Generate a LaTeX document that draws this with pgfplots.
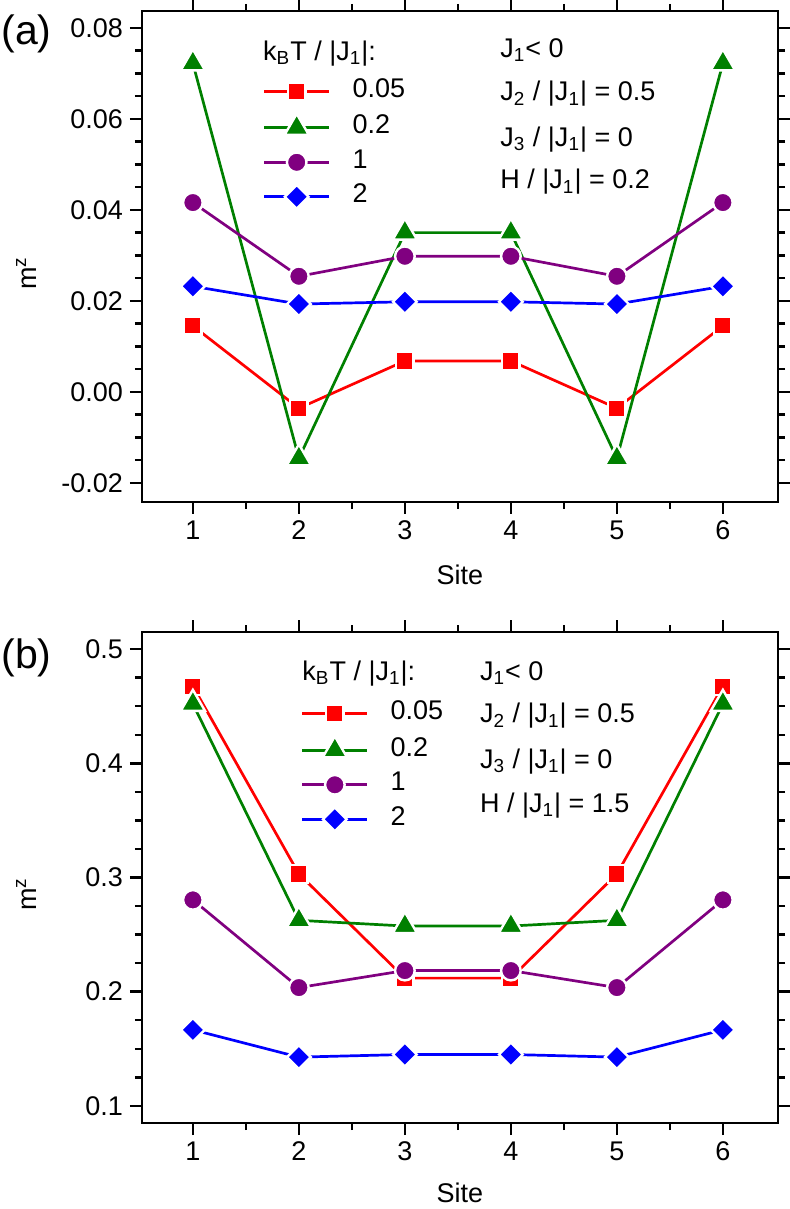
\documentclass[border=0pt]{standalone}
\usepackage{fontspec}
\setmainfont{Liberation Sans}
\usepackage{pgfplots}
\pgfplotsset{compat=1.18}

\definecolor{ored}{RGB}{255,0,0}
\definecolor{ogreen}{RGB}{0,128,0}
\definecolor{opurple}{RGB}{128,0,128}
\definecolor{oblue}{RGB}{0,0,255}

\tikzset{annot/.style={anchor=base west, font=\fontsize{13.5}{15}\selectfont, inner sep=0pt}}

\pgfplotsset{
 panel/.style={
  scale only axis, width=318pt, height=245.5pt,
  xmin=0.52, xmax=6.52,
  xtick={1,...,6}, minor x tick num=1,
  scaled y ticks=false,
  clip mode=individual,
  tick align=outside,
  major tick length=6pt, minor tick length=3.5pt,
  axis line style={line width=1.4pt},
  every tick/.style={black, line width=1.2pt},
  ticklabel style={font=\fontsize{13.5}{15}\selectfont},
  /pgf/number format/assume math mode=true,
  xlabel={Site},
  xlabel style={font=\fontsize{13.5}{15}\selectfont, at={(axis description cs:0.5,-0.149)}, anchor=center},
  ylabel={m\textsuperscript{z}},
  ylabel style={font=\fontsize{13.5}{15}\selectfont, at={(axis description cs:-0.182,0.466)}, anchor=center},
  legend style={draw=none, fill=none, inner sep=0pt, outer sep=0pt, row sep=5.25pt, column sep=11pt,
    font=\fontsize{13.5}{15}\selectfont, nodes={inner sep=0pt, text height=9pt, text depth=3pt}},
  legend cell align=left,
  legend image code/.code={\draw[mark repeat=2,mark phase=2,##1] plot coordinates {(0pt,0pt) (16.25pt,0pt) (32.5pt,0pt)};},
 },
 s1/.style={color=ored, line width=1.35pt, mark=square*, mark size=4.4pt, mark options={draw=white, line width=1.2pt, fill=ored}},
 s2/.style={color=ogreen, line width=1.35pt, mark=triangle*, mark size=7pt, mark options={draw=white, line width=1.2pt, fill=ogreen}},
 s3/.style={color=opurple, line width=1.35pt, mark=*, mark size=4.9pt, mark options={draw=white, line width=1.2pt, fill=opurple}},
 s4/.style={color=oblue, line width=1.35pt, mark=square*, mark size=4.2pt, mark options={draw=white, line width=1.2pt, fill=oblue, rotate=45}},
}

\begin{document}
\begin{tikzpicture}
%% ---------- panel (a) ----------
\begin{axis}[panel, at={(0pt,0pt)}, anchor=south west,
  ymin=-0.0242, ymax=0.0837,
  ytick={-0.02,0,0.02,0.04,0.06,0.08}, minor y tick num=3,
  yticklabel style={/pgf/number format/fixed, /pgf/number format/fixed zerofill, /pgf/number format/precision=2},
  legend style={at={(rel axis cs:0.190,0.729)}, anchor=west},
]
\addplot[s1] coordinates {(1,0.0145) (2,-0.0036) (3,0.0068) (4,0.0068) (5,-0.0036) (6,0.0145)};
\addlegendentry{0.05}
\addplot[s2] coordinates {(1,0.0722) (2,-0.0146) (3,0.0350) (4,0.0350) (5,-0.0146) (6,0.0722)};
\addlegendentry{0.2}
\addplot[s3] coordinates {(1,0.0416) (2,0.0254) (3,0.0298) (4,0.0298) (5,0.0254) (6,0.0416)};
\addlegendentry{1}
\addplot[s4] coordinates {(1,0.0232) (2,0.0193) (3,0.0198) (4,0.0198) (5,0.0193) (6,0.0232)};
\addlegendentry{2}
\node[annot] at (rel axis cs:0.190,0.900) {k\textsubscript{B}T / |J\textsubscript{1}|:};
\node[annot] at (rel axis cs:0.563,0.906) {J\textsubscript{1}< 0};
\node[annot] at (rel axis cs:0.563,0.817) {J\textsubscript{2} / |J\textsubscript{1}| = 0.5};
\node[annot] at (rel axis cs:0.563,0.725) {J\textsubscript{3} / |J\textsubscript{1}| = 0};
\node[annot] at (rel axis cs:0.563,0.6375) {H / |J\textsubscript{1}| = 0.2};
\node[anchor=west, font=\fontsize{20.5}{22}\selectfont, inner sep=0pt] at (rel axis cs:-0.2215,0.953) {(a)};
\end{axis}
%% ---------- panel (b) ----------
\begin{axis}[panel, at={(0pt,-310.5pt)}, anchor=south west,
  ymin=0.085, ymax=0.515,
  ytick={0.1,0.2,0.3,0.4,0.5}, minor y tick num=3,
  yticklabel style={/pgf/number format/fixed, /pgf/number format/fixed zerofill, /pgf/number format/precision=1},
  xlabel style={at={(axis description cs:0.5,-0.143)}},
  legend style={at={(rel axis cs:0.250,0.726)}, anchor=west},
]
\addplot[s1] coordinates {(1,0.4676) (2,0.3031) (3,0.2119) (4,0.2119) (5,0.3031) (6,0.4676)};
\addlegendentry{0.05}
\addplot[s2] coordinates {(1,0.4521) (2,0.2625) (3,0.2575) (4,0.2575) (5,0.2625) (6,0.4521)};
\addlegendentry{0.2}
\addplot[s3] coordinates {(1,0.2804) (2,0.2036) (3,0.2185) (4,0.2185) (5,0.2036) (6,0.2804)};
\addlegendentry{1}
\addplot[s4] coordinates {(1,0.1666) (2,0.1427) (3,0.1450) (4,0.1450) (5,0.1427) (6,0.1666)};
\addlegendentry{2}
\node[annot] at (rel axis cs:0.2516,0.902) {k\textsubscript{B}T / |J\textsubscript{1}|:};
\node[annot] at (rel axis cs:0.531,0.902) {J\textsubscript{1}< 0};
\node[annot] at (rel axis cs:0.531,0.815) {J\textsubscript{2} / |J\textsubscript{1}| = 0.5};
\node[annot] at (rel axis cs:0.531,0.723) {J\textsubscript{3} / |J\textsubscript{1}| = 0};
\node[annot] at (rel axis cs:0.531,0.633) {H / |J\textsubscript{1}| = 1.5};
\node[anchor=west, font=\fontsize{20.5}{22}\selectfont, inner sep=0pt] at (rel axis cs:-0.2215,0.947) {(b)};
\end{axis}
\pgfresetboundingbox
\path[use as bounding box] (-71pt,-353.5pt) rectangle (323.5pt,251pt);
\end{tikzpicture}
\end{document}
